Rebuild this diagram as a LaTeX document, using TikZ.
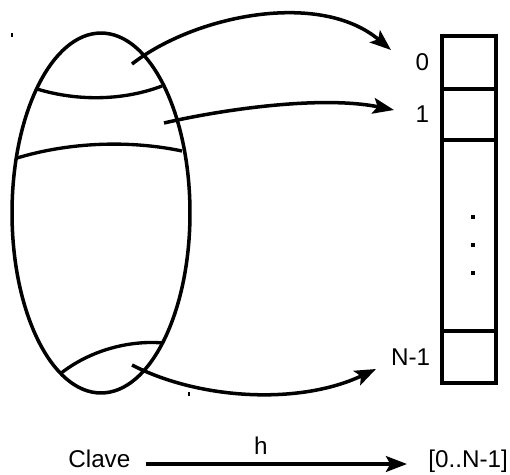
\documentclass[tikz,border=0pt]{standalone}
\usepackage{fontspec}
\setmainfont{Liberation Sans}
\usepackage{tikz}
\usetikzlibrary{
    arrows.meta,
    calc,
    positioning,
    shapes.geometric
}
\definecolor{ink}{RGB}{0,0,0}
\tikzset{
    line cap=round,
    line join=round,
    keyset/.style={
        ellipse,
        draw=ink,
        line width=2pt,
        minimum width=3.56cm,
        minimum height=7.2cm,
        inner sep=0pt
    },
    divider/.style={
        draw=ink,
        line width=1.9pt
    },
    slot/.style={
        rectangle,
        draw=ink,
        line width=2pt,
        minimum width=1.08cm,
        inner sep=0pt,
        outer sep=0pt
    },
    slotlabel/.style={
        font=\fontsize{13.8}{16.5}\selectfont,
        text=ink,
        inner sep=2pt
    },
    maparrow/.style={
        -{Stealth[length=12pt, width=9pt, inset=2.5pt]},
        draw=ink,
        line width=2pt
    },
    dotmark/.style={
        fill=ink
    },
    speck/.style={
        draw=ink,
        line width=0.6pt
    }
}

\begin{document}
\begin{tikzpicture}[x=0.02cm, y=-0.02cm]

\useasboundingbox (0,0) rectangle (510,474);

% keys
\node[keyset] (keys) at (101,213) {};
\draw[divider] (37,89) .. controls (80,102) and (125,100) .. (162,86);
\draw[divider] (17,158) .. controls (70,142) and (130,140) .. (182,151);
\draw[divider] (60,374) .. controls (90,350) and (130,340) .. (163,343);

% table
\node[slot, minimum height=1.06cm] (cell0) at (469,62.5) {};
\node[slot, minimum height=1.02cm, below=0pt of cell0] (cell1) {};
\node[slot, minimum height=3.82cm, below=0pt of cell1] (cellmid) {};
\node[slot, minimum height=1.04cm, below=0pt of cellmid] (cellN) {};
\foreach \y in {217,245,273} {
    \fill[dotmark] (473,\y) +(-1.7,-1.7) rectangle +(1.7,1.7);
}

\node[slotlabel, left=0.18cm of cell0] (lbl0) {0};
\node[slotlabel, left=0.18cm of cell1] (lbl1) {1};
\node[slotlabel, left=0.16cm of cellN] (lblN) {N-1};

\coordinate (src0) at (132,64);
\coordinate (tip0) at (391,50);
\coordinate (src1) at (164,123);
\coordinate (tip1) at (394,110);
\coordinate (srcN) at (132,365);
\coordinate (tipN) at (376,369);

\draw[maparrow] (src0) .. controls (195,15) and (320,-10) .. (tip0);
\draw[maparrow] (src1) .. controls (220,110) and (320,95) .. (tip1);
\draw[maparrow] (srcN) .. controls (200,400) and (300,405) .. (tipN);

% h : Clave -> [0..N-1]
\node[slotlabel, anchor=base west] (clave) at (64.5,467) {Clave};
\node[slotlabel, anchor=base west] (range) at (424.5,467) {[0..N-1]};
\path (clave.base east -| 146,0) ++(0,-3) coordinate (hfrom)
    (range.base west -| 407,0) ++(0,-3) coordinate (hto);
\draw[maparrow] (hfrom) -- (hto)
    node[slotlabel, pos=0.44, above=2.5pt] (hname) {h};

\draw[speck] (12,33) -- (12,37);
\draw[speck] (189,392) -- (189,396);

\end{tikzpicture}
\end{document}
